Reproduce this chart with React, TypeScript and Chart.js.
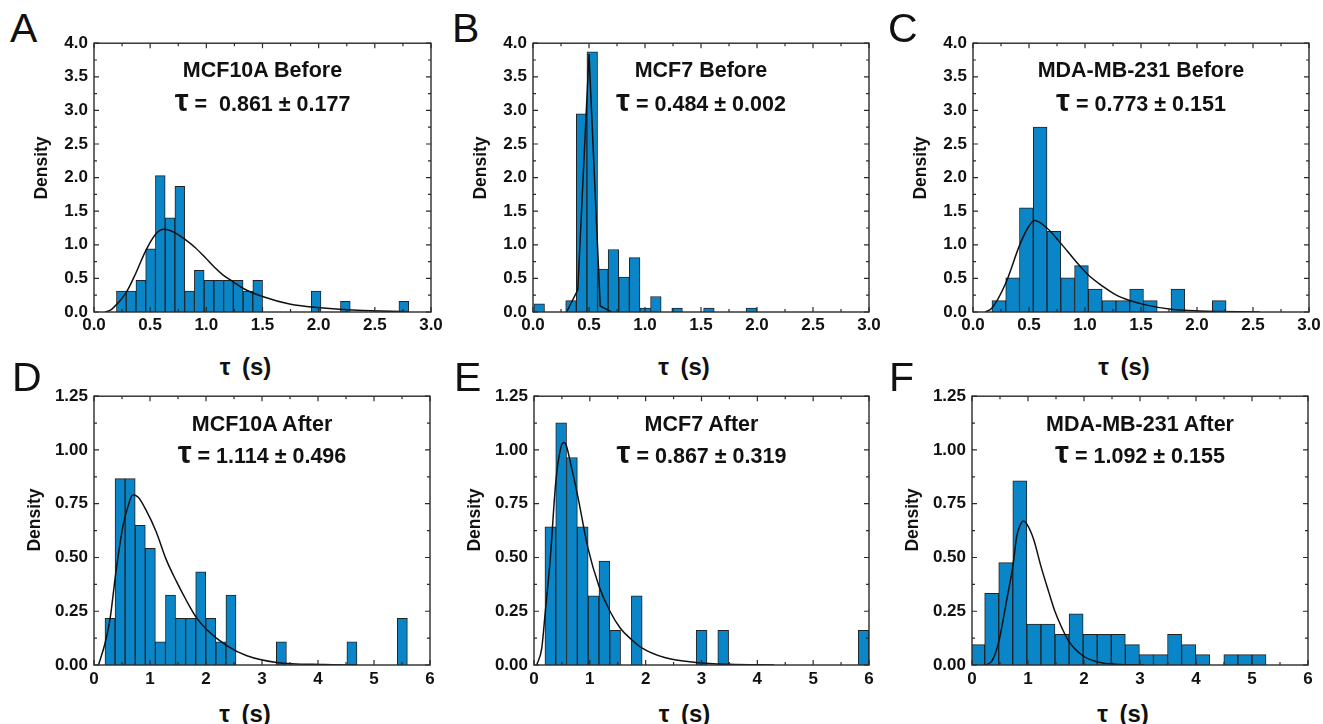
import React, { useEffect, useRef } from "react";
import { Chart, registerables } from "chart.js";

Chart.register(...registerables);

const FONT = "'Liberation Sans', Arial, Helvetica, sans-serif";
const BAR_FILL = "#0a86c8";
const BAR_EDGE = "#222222";
const INK = "#111111";

// ---------- text ----------
const panelLetters = ["A", "B", "C", "D", "E", "F"];
const panelTitles = [
  "MCF10A Before",
  "MCF7 Before",
  "MDA-MB-231 Before",
  "MCF10A After",
  "MCF7 After",
  "MDA-MB-231 After",
];
const tauTexts = [
  " =  0.861 ± 0.177",
  " = 0.484 ± 0.002",
  " = 0.773 ± 0.151",
  " = 1.114 ± 0.496",
  " = 0.867 ± 0.319",
  " = 1.092 ± 0.155",
];
const xAxisTitle = "τ (s)";
const yAxisTitle = "Density";

// ---------- tick labels ----------
const xTickLabelsBefore = ["0.0", "0.5", "1.0", "1.5", "2.0", "2.5", "3.0"];
const yTickLabelsBefore = ["0.0", "0.5", "1.0", "1.5", "2.0", "2.5", "3.0", "3.5", "4.0"];
const xTickLabelsAfter = ["0", "1", "2", "3", "4", "5", "6"];
const yTickLabelsAfter = ["0.00", "0.25", "0.50", "0.75", "1.00", "1.25"];

// ---------- A: MCF10A Before ----------
const binStartA = 0.2;
const binWidthA = 0.0867;
const densityA = [0.31, 0.31, 0.47, 0.94, 2.03, 1.4, 1.87, 0.31, 0.62, 0.47, 0.47, 0.47, 0.47, 0.31, 0.47, 0, 0, 0, 0, 0, 0.31, 0, 0, 0.16, 0, 0, 0, 0, 0, 0.16];
const fitXA = [0.1, 0.15, 0.2, 0.29, 0.37, 0.46, 0.55, 0.62, 0.72, 0.81, 0.9, 0.99, 1.07, 1.15, 1.24, 1.33, 1.5, 1.74, 2.04, 2.34, 2.8];
const fitYA = [0, 0.03, 0.11, 0.3, 0.57, 0.91, 1.16, 1.23, 1.18, 1.08, 0.96, 0.81, 0.67, 0.55, 0.45, 0.35, 0.23, 0.12, 0.06, 0.025, 0.005];

// ---------- B: MCF7 Before ----------
const binStartB = 0.008;
const binWidthB = 0.0947;
const densityB = [0.12, 0, 0, 0.17, 2.95, 3.87, 0.64, 0.93, 0.52, 0.81, 0.06, 0.23, 0, 0.06, 0, 0, 0.06, 0, 0, 0, 0.06];
const fitXB = [0.3, 0.4, 0.5, 0.6, 0.7];
const fitYB = [0, 0.33, 3.84, 0.09, 0];

// ---------- C: MDA-MB-231 Before ----------
const binStartC = 0.169;
const binWidthC = 0.123;
const densityC = [0.17, 0.51, 1.55, 2.75, 1.2, 0.51, 0.69, 0.34, 0.17, 0.17, 0.34, 0.17, 0, 0.34, 0, 0, 0.17];
const fitXC = [0.11, 0.17, 0.29, 0.42, 0.5, 0.55, 0.66, 0.79, 0.91, 1.03, 1.16, 1.28, 1.4, 1.53, 1.77, 2.02, 2.56];
const fitYC = [0, 0.06, 0.42, 1.01, 1.28, 1.36, 1.25, 1.01, 0.77, 0.55, 0.38, 0.25, 0.17, 0.11, 0.04, 0.015, 0];

// ---------- D: MCF10A After ----------
const binStartD = 0.196;
const binWidthD = 0.18;
const densityD = [0.217, 0.867, 0.867, 0.65, 0.542, 0.108, 0.325, 0.217, 0.217, 0.433, 0.217, 0.108, 0.325, 0, 0, 0, 0, 0.108, 0, 0, 0, 0, 0, 0, 0.108, 0, 0, 0, 0, 0.217];
const fitXD = [0.08, 0.196, 0.29, 0.39, 0.52, 0.61, 0.69, 0.79, 0.93, 1.11, 1.29, 1.47, 1.65, 1.83, 2.01, 2.37, 2.73, 3.26, 4.1, 4.7];
const fitYD = [0, 0.1, 0.22, 0.43, 0.65, 0.74, 0.79, 0.78, 0.72, 0.62, 0.49, 0.39, 0.3, 0.22, 0.165, 0.09, 0.043, 0.012, 0.002, 0];

// ---------- E: MCF7 After ----------
const binStartE = 0.196;
const binWidthE = 0.1935;
const densityE = [0.643, 1.126, 0.965, 0.643, 0.322, 0.483, 0.161, 0, 0.322, 0, 0, 0, 0, 0, 0.161, 0, 0.161, 0, 0, 0, 0, 0, 0, 0, 0, 0, 0, 0, 0, 0.161];
const fitXE = [0.05, 0.14, 0.196, 0.29, 0.39, 0.49, 0.54, 0.58, 0.67, 0.78, 0.97, 1.16, 1.36, 1.55, 1.74, 1.93, 2.34, 2.9, 3.5, 4.3];
const fitYE = [0, 0.08, 0.23, 0.49, 0.85, 1.02, 1.035, 1.02, 0.92, 0.79, 0.54, 0.37, 0.25, 0.17, 0.12, 0.08, 0.035, 0.012, 0.003, 0];

// ---------- F: MDA-MB-231 After ----------
const binStartF = -0.025;
const binWidthF = 0.2512;
const densityF = [0.095, 0.333, 0.476, 0.857, 0.19, 0.19, 0.143, 0.238, 0.143, 0.143, 0.143, 0.095, 0.048, 0.048, 0.143, 0.095, 0.048, 0, 0.048, 0.048, 0.048];
const fitXF = [0.24, 0.36, 0.48, 0.625, 0.73, 0.8, 0.86, 0.92, 0.98, 1.1, 1.23, 1.37, 1.48, 1.61, 1.73, 1.98, 2.23, 2.65, 3.07];
const fitYF = [0, 0.02, 0.11, 0.31, 0.46, 0.6, 0.65, 0.67, 0.655, 0.585, 0.46, 0.34, 0.25, 0.17, 0.11, 0.043, 0.015, 0.002, 0];

// ---------- panel definitions ----------
const before = { xMax: 3, xStep: 0.5, yMax: 4, yStep: 0.5, xLabels: xTickLabelsBefore, yLabels: yTickLabelsBefore };
const after = { xMax: 6, xStep: 1, yMax: 1.25, yStep: 0.25, xLabels: xTickLabelsAfter, yLabels: yTickLabelsAfter };

const panels = [
  { ...before, binStart: binStartA, binWidth: binWidthA, density: densityA, fitX: fitXA, fitY: fitYA, smooth: true },
  { ...before, binStart: binStartB, binWidth: binWidthB, density: densityB, fitX: fitXB, fitY: fitYB, smooth: false },
  { ...before, binStart: binStartC, binWidth: binWidthC, density: densityC, fitX: fitXC, fitY: fitYC, smooth: true },
  { ...after, binStart: binStartD, binWidth: binWidthD, density: densityD, fitX: fitXD, fitY: fitYD, smooth: true },
  { ...after, binStart: binStartE, binWidth: binWidthE, density: densityE, fitX: fitXE, fitY: fitYE, smooth: true },
  { ...after, binStart: binStartF, binWidth: binWidthF, density: densityF, fitX: fitXF, fitY: fitYF, smooth: true },
];

// ---------- layout (pixel boxes of each plot area) ----------
const boxes = [
  { L: 94, T: 39, R: 431, B: 312, letterX: 10, letterY: 8, row: 0 },
  { L: 533, T: 39, R: 869, B: 312, letterX: 452, letterY: 8, row: 0 },
  { L: 973, T: 39, R: 1309, B: 312, letterX: 888, letterY: 8, row: 0 },
  { L: 94, T: 392, R: 430, B: 665, letterX: 12, letterY: 357, row: 1 },
  { L: 534, T: 392, R: 869, B: 665, letterX: 454, letterY: 357, row: 1 },
  { L: 972, T: 392, R: 1308, B: 665, letterX: 889, letterY: 357, row: 1 },
];
const rowStyle = [
  { line1Top: 60, line2Top: 94, xTitleTop: 355, densityY: 168, densityOff: 52, tickPad: 3 },
  { line1Top: 414, line2Top: 446, xTitleTop: 702, densityY: 520, densityOff: 59, tickPad: 4 },
];
const Y_AXIS_W = 45;
const X_AXIS_H = 30;
const PAD_TOP = 12;
const PAD_RIGHT = 20;

const framePlugin = {
  id: "frame",
  afterDatasetsDraw(chart: any) {
    const { ctx, chartArea: a, scales } = chart;
    const withMinor = (s: any) => {
      const vals: number[] = s.ticks.map((t: any) => t.value);
      const out: [number, boolean][] = [];
      vals.forEach((v, i) => {
        out.push([v, true]);
        if (i < vals.length - 1) out.push([(v + vals[i + 1]) / 2, false]);
      });
      return out;
    };
    ctx.save();
    ctx.strokeStyle = "#2a2a2a";
    ctx.lineWidth = 1.2;
    ctx.beginPath();
    for (const [v, major] of withMinor(scales.x)) {
      const px = scales.x.getPixelForValue(v);
      const len = major ? 5 : 3;
      ctx.moveTo(px, a.bottom);
      ctx.lineTo(px, a.bottom - len);
      ctx.moveTo(px, a.top);
      ctx.lineTo(px, a.top + len);
    }
    for (const [v, major] of withMinor(scales.y)) {
      const py = scales.y.getPixelForValue(v);
      const len = major ? 5 : 3;
      ctx.moveTo(a.left, py);
      ctx.lineTo(a.left + len, py);
      ctx.moveTo(a.right, py);
      ctx.lineTo(a.right - len, py);
    }
    ctx.stroke();
    ctx.lineWidth = 1.4;
    ctx.strokeRect(a.left, a.top, a.right - a.left, a.bottom - a.top);
    ctx.restore();
  },
};

function Panel({ idx }: { idx: number }) {
  const ref = useRef<HTMLCanvasElement>(null);
  const p = panels[idx];
  const b = boxes[idx];
  const rs = rowStyle[b.row];
  const cw = b.R - b.L + Y_AXIS_W + PAD_RIGHT;
  const ch = b.B - b.T + PAD_TOP + X_AXIS_H;

  useEffect(() => {
    if (!ref.current) return;
    const bars = p.density.map((d, i) => ({
      x: p.binStart + (i + 0.5) * p.binWidth,
      y: d > 0 ? d : null,
    }));
    const curve = p.fitX.map((x, i) => ({ x, y: p.fitY[i] }));
    const tickFont = { family: FONT, size: 17, weight: "bold" as const };
    const chart = new Chart(ref.current, {
      type: "bar",
      data: {
        datasets: [
          {
            type: "line",
            data: curve as any,
            borderColor: INK,
            borderWidth: 1.5,
            pointRadius: 0,
            fill: false,
            tension: p.smooth ? 0.4 : 0,
            cubicInterpolationMode: p.smooth ? "monotone" : "default",
            order: 0,
          } as any,
          {
            type: "bar",
            data: bars as any,
            backgroundColor: BAR_FILL,
            borderColor: BAR_EDGE,
            borderWidth: 1,
            barPercentage: 1,
            categoryPercentage: 1,
            clip: 0,
            order: 1,
          } as any,
        ],
      },
      options: {
        responsive: false,
        animation: false,
        events: [],
        layout: { padding: { top: PAD_TOP, right: PAD_RIGHT, left: 0, bottom: 0 } },
        plugins: { legend: { display: false }, tooltip: { enabled: false } },
        scales: {
          x: {
            type: "linear",
            min: 0,
            max: p.xMax,
            offset: false,
            grid: { display: false, drawTicks: false },
            border: { display: false },
            ticks: {
              stepSize: p.xStep,
              autoSkip: false,
              maxRotation: 0,
              padding: rs.tickPad,
              color: INK,
              font: tickFont,
              callback: (_v: any, i: number) => p.xLabels[i],
            },
            afterFit: (s: any) => {
              s.height = X_AXIS_H;
            },
          },
          y: {
            type: "linear",
            min: 0,
            max: p.yMax,
            grid: { display: false, drawTicks: false },
            border: { display: false },
            ticks: {
              stepSize: p.yStep,
              autoSkip: false,
              padding: 6,
              color: INK,
              font: tickFont,
              callback: (_v: any, i: number) => p.yLabels[i],
            },
            afterFit: (s: any) => {
              s.width = Y_AXIS_W;
            },
          },
        },
      } as any,
      plugins: [framePlugin],
    });
    return () => chart.destroy();
  }, []);

  const plotCenter = (b.L + b.R) / 2;
  const common: React.CSSProperties = {
    position: "absolute",
    fontFamily: FONT,
    color: INK,
    lineHeight: "1",
    whiteSpace: "pre",
  };

  return (
    <>
      <canvas
        ref={ref}
        width={cw}
        height={ch}
        style={{ position: "absolute", left: b.L - Y_AXIS_W, top: b.T - PAD_TOP, width: cw, height: ch, display: "block" }}
      />
      <div style={{ ...common, left: b.letterX, top: b.letterY, fontSize: 41 }}>{panelLetters[idx]}</div>
      <div
        style={{ ...common, left: plotCenter - 200, width: 400, textAlign: "center", top: rs.line1Top, fontSize: 21.5, fontWeight: "bold" }}
      >
        {panelTitles[idx]}
      </div>
      <div
        style={{ ...common, left: plotCenter - 200, width: 400, textAlign: "center", top: rs.line2Top, fontSize: 21.5, fontWeight: "bold" }}
      >
        <span style={{ fontSize: "1.45em", lineHeight: "0" }}>τ</span>
        {tauTexts[idx]}
      </div>
      <div
        style={{ ...common, left: plotCenter - 17 - 100, width: 200, textAlign: "center", top: rs.xTitleTop, fontSize: 24, fontWeight: "bold", wordSpacing: 5 }}
      >
        {xAxisTitle}
      </div>
      <div
        style={{
          ...common,
          left: b.L - rs.densityOff - 50,
          top: rs.densityY - 9,
          width: 100,
          height: 18,
          textAlign: "center",
          fontSize: 17.5,
          fontWeight: "bold",
          transform: "rotate(-90deg)",
          transformOrigin: "50% 50%",
        }}
      >
        {yAxisTitle}
      </div>
    </>
  );
}

export default function App() {
  return (
    <div
      style={{
        position: "fixed",
        left: 0,
        top: 0,
        width: 1323,
        height: 724,
        overflow: "hidden",
        background: "#ffffff",
      }}
    >
      {panels.map((_, i) => (
        <Panel key={i} idx={i} />
      ))}
    </div>
  );
}
